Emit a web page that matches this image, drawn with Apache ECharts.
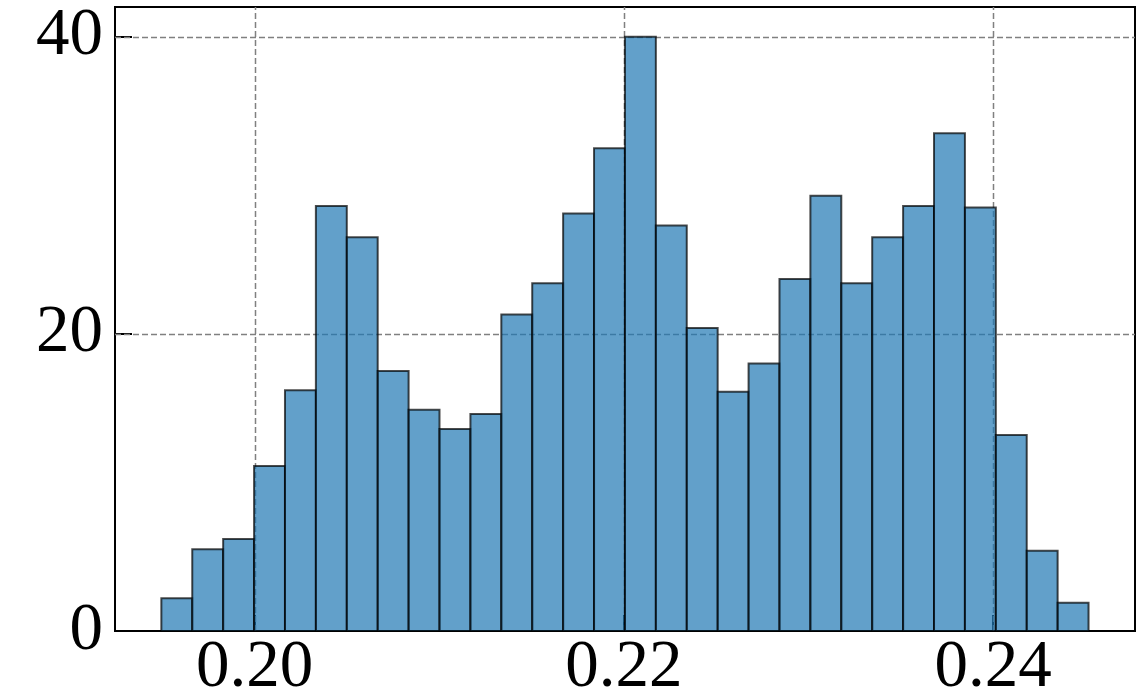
<!DOCTYPE html>
<html>
<head>
<meta charset="utf-8">
<script src="https://cdn.jsdelivr.net/npm/echarts@6/dist/echarts.min.js"></script>
<style>
html,body{margin:0;padding:0;background:#fff;}
#chart{width:1142px;height:693px;}
</style>
</head>
<body>
<div id="chart"></div>
<script>
// Histogram data
const binStart = 0.19495;
const binEnd = 0.245164;
const counts = [2.2, 5.5, 6.2, 11.1, 16.2, 28.6, 26.5, 17.5, 14.9, 13.6,
                14.6, 21.3, 23.4, 28.1, 32.5, 40.0, 27.3, 20.4, 16.1, 18.0,
                23.7, 29.3, 23.4, 26.5, 28.6, 33.5, 28.5, 13.2, 5.4, 1.9];
const xTicks = [0.20, 0.22, 0.24];
const xTickLabels = ['0.20', '0.22', '0.24'];
const yTicks = [0, 20, 40];
const xMin = 0.19244, xMax = 0.24768;
const yMin = 0, yMax = 42;

const binW = (binEnd - binStart) / counts.length;
const bins = counts.map((c, i) => [binStart + i * binW, binStart + (i + 1) * binW, c]);

const chart = echarts.init(document.getElementById('chart'), null, {renderer: 'canvas'});
const font = 'Liberation Serif';

chart.setOption({
  animation: false,
  backgroundColor: '#fff',
  grid: {left: 115, right: 7, top: 7, bottom: 62, containLabel: false, outerBoundsMode: 'none',
    show: true, borderColor: '#000', borderWidth: 2, backgroundColor: 'transparent'},
  xAxis: {
    type: 'value', min: xMin, max: xMax,
    axisLine: {show: true, onZero: false, lineStyle: {color: '#000', width: 2}},
    axisTick: {show: true, inside: true, length: 16, lineStyle: {color: '#000', width: 2}, customValues: xTicks},
    axisLabel: {show: true, customValues: xTicks, margin: 4, fontFamily: font, fontSize: 67, color: '#000',
      formatter: v => { const i = xTicks.findIndex(t => Math.abs(t - v) < 1e-9); return i >= 0 ? xTickLabels[i] : ''; }},
    splitLine: {show: false}
  },
  yAxis: {
    type: 'value', min: yMin, max: yMax,
    axisLine: {show: true, onZero: false, lineStyle: {color: '#000', width: 2}},
    axisTick: {show: true, inside: true, length: 17, lineStyle: {color: '#000', width: 2}, customValues: yTicks},
    axisLabel: {show: true, customValues: yTicks, margin: 12, fontFamily: font, fontSize: 67, color: '#000'},
    splitLine: {show: false}
  },
  series: [
    {
      // grid lines (drawn under the bars)
      type: 'custom',
      silent: true,
      z: 1,
      data: [0],
      renderItem: function (params, api) {
        const children = [];
        const style = {stroke: '#808080', lineWidth: 1.5, lineDash: [6, 3], fill: null};
        xTicks.forEach(t => {
          const p1 = api.coord([t, yMin]);
          const p2 = api.coord([t, yMax]);
          children.push({type: 'line', shape: {x1: Math.round(p1[0]) + 0.5, y1: p1[1], x2: Math.round(p2[0]) + 0.5, y2: p2[1]}, style: style});
        });
        yTicks.forEach(t => {
          if (t === 0) return;
          const p1 = api.coord([xMin, t]);
          const p2 = api.coord([xMax, t]);
          children.push({type: 'line', shape: {x1: p1[0], y1: Math.round(p1[1]) + 0.5, x2: p2[0], y2: Math.round(p2[1]) + 0.5}, style: style});
        });
        return {type: 'group', children: children};
      }
    },
    {
      type: 'custom',
      z: 2,
      data: bins,
      encode: {x: [0, 1], y: 2},
      renderItem: function (params, api) {
        const p0 = api.coord([api.value(0), 0]);
        const p1 = api.coord([api.value(1), api.value(2)]);
        return {
          type: 'rect',
          shape: {x: p0[0], y: p1[1], width: p1[0] - p0[0], height: p0[1] - p1[1]},
          style: {fill: '#1f77b4', stroke: '#000', lineWidth: 2, opacity: 0.7}
        };
      }
    }
  ]
});
</script>
</body>
</html>
